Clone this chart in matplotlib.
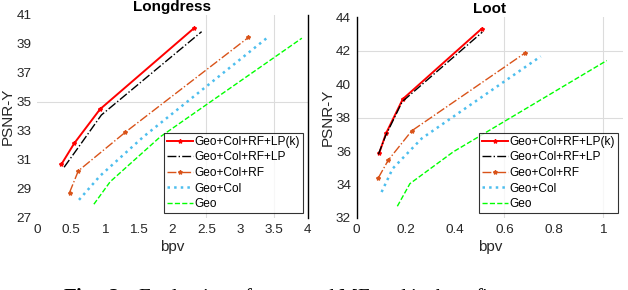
import matplotlib
matplotlib.use("Agg")
import matplotlib.pyplot as plt

plt.rcParams['font.family'] = ['Liberation Sans', 'DejaVu Sans']
plt.rcParams['mathtext.fontset'] = 'custom'
plt.rcParams['mathtext.rm'] = 'Liberation Serif'
plt.rcParams['mathtext.bf'] = 'Liberation Serif:bold'

labels = ['Geo+Col+RF+LP(k)', 'Geo+Col+RF+LP', 'Geo+Col+RF', 'Geo+Col', 'Geo']

# Longdress: bpv / PSNR-Y per method
ld_x = [
    [0.36, 0.55, 0.93, 2.32],
    [0.40, 0.60, 0.95, 2.43],
    [0.48, 0.61, 1.30, 3.12],
    [0.62, 0.93, 1.57, 3.39],
    [0.84, 1.08, 1.82, 3.91],
]
ld_y = [
    [30.7, 32.15, 34.5, 40.1],
    [30.5, 31.8, 34.1, 39.85],
    [28.75, 30.25, 32.9, 39.45],
    [28.25, 29.9, 32.6, 39.4],
    [27.95, 29.5, 32.6, 39.4],
]

# Loot
lt_x = [
    [0.092, 0.119, 0.187, 0.507],
    [0.088, 0.117, 0.185, 0.510],
    [0.088, 0.128, 0.223, 0.683],
    [0.101, 0.146, 0.264, 0.747],
    [0.165, 0.216, 0.392, 1.015],
]
lt_y = [
    [35.9, 37.05, 39.1, 43.3],
    [35.8, 36.9, 38.95, 43.1],
    [34.4, 35.45, 37.2, 41.85],
    [33.55, 34.95, 36.75, 41.65],
    [32.7, 34.05, 35.95, 41.4],
]

colors = ['#ff0000', '#000000', '#D95319', '#4DBEEE', '#00ff00']
styles = ['-', '-.', '-.', ':', '--']
markers = ['*', None, '*', None, None]
widths = [1.4, 1.0, 1.0, 1.8, 1.0]

fig = plt.figure(figsize=(6.28, 2.90), dpi=100)
ax1 = fig.add_axes([0.0589, 0.2483, 0.4315, 0.70])
ax2 = fig.add_axes([0.568, 0.2483, 0.424, 0.693])


def draw(ax, xs, ys, title, xlim, ylim, xticks, yticks, xtl, grid_x, grid_y, spine):
    for gx in grid_x:
        ax.axvline(gx, color='#dcdcdc', lw=0.8, zorder=0)
    for gy in grid_y:
        ax.axhline(gy, color='#dcdcdc', lw=0.8, zorder=0)
    for i in range(len(labels)):
        ax.plot(xs[i], ys[i], color=colors[i], ls=styles[i], lw=widths[i],
                marker=markers[i], ms=3, label=labels[i])
    ax.set_xlim(xlim)
    ax.set_ylim(ylim)
    ax.set_xticks(xticks)
    ax.set_xticklabels(xtl)
    ax.set_yticks(yticks)
    for s in ['top', 'bottom', 'left', 'right']:
        ax.spines[s].set_visible(s == spine)
    ax.spines[spine].set_linewidth(1.0)
    ax.tick_params(length=0, labelsize=9.7, colors='#262626', pad=4)
    ax.set_title(title, fontsize=11, fontweight='bold', pad=3)
    ax.set_xlabel('bpv', fontsize=11, color='#262626', labelpad=3)
    ax.set_ylabel('PSNR-Y', fontsize=11, color='#262626', labelpad=1)
    leg = ax.legend(loc='lower right', fontsize=8.6, frameon=True, fancybox=False,
                    borderpad=0.25, labelspacing=0.3, handlelength=2.2,
                    handletextpad=0.15, borderaxespad=0.4)
    leg.get_frame().set_edgecolor('black')
    leg.get_frame().set_linewidth(0.8)


draw(ax1, ld_x, ld_y, 'Longdress', (0, 4), (27, 41),
     [0, 0.5, 1, 1.5, 2, 2.5, 3, 3.5, 4],
     [27, 29, 31, 33, 35, 37, 39, 41],
     ['0', '0.5', '1', '1.5', '2', '2.5', '3', '3.5', '4'],
     [2.5, 3.5], [35], 'right')
draw(ax2, lt_x, lt_y, 'Loot', (0, 1.081), (32, 44),
     [0, 0.2, 0.4, 0.6, 0.8, 1.0],
     [32, 34, 36, 38, 40, 42, 44],
     ['0', '0.2', '0.4', '0.6', '0.8', '1'],
     [0.6, 1.0], [38, 42], 'left')

# caption of the source figure, cut off by the bottom edge
fig.text(0.45, 3.5 / 290, r'$\mathbf{Fig.\ 2:}$ Evaluation of proposed ME and its benefits',
         ha='center', va='top', fontsize=15, family=['Liberation Serif', 'DejaVu Serif'])

fig.savefig('out.png', dpi=100)
